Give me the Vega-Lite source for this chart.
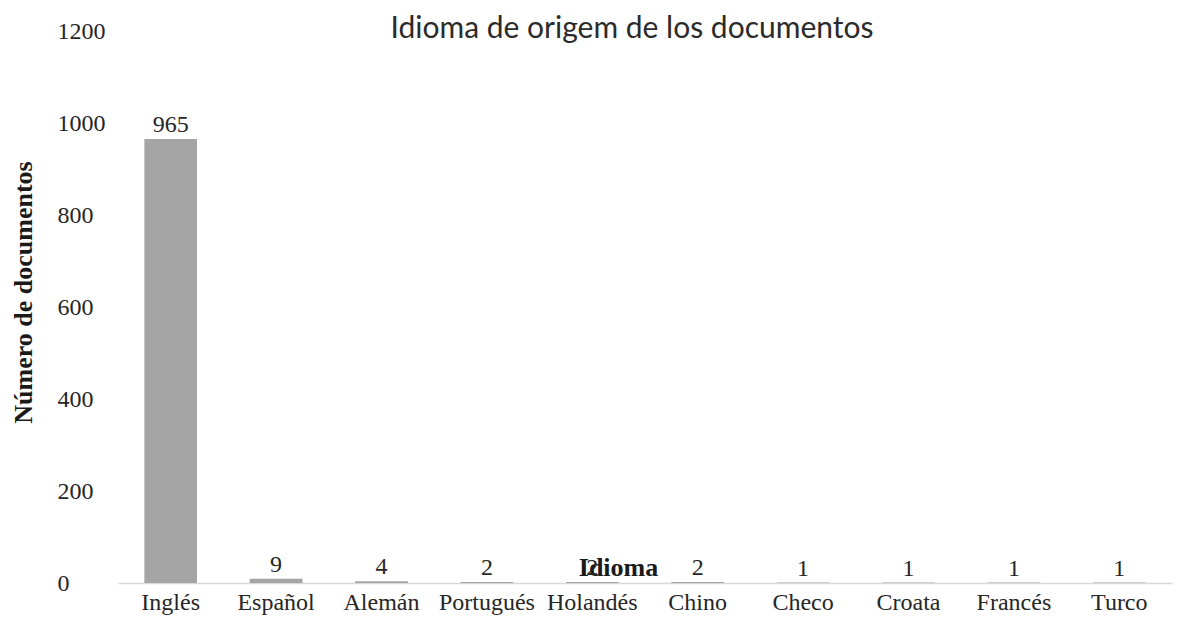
{
  "$schema": "https://vega.github.io/schema/vega-lite/v6.json",
  "autosize": {"type": "none"},
  "padding": {"left": 118, "top": 31, "right": 8, "bottom": 44},
  "width": 1054,
  "height": 552,
  "background": "white",
  "title": {
    "text": "Idioma de origem de los documentos",
    "font": "Lato",
    "fontSize": 30,
    "fontWeight": "normal",
    "color": "#2b2b2b",
    "anchor": "middle",
    "dx": -13,
    "dy": 23,
    "offset": -2
  },
  "data": {
    "values": [
      {"idioma": "Inglés", "n": 965},
      {"idioma": "Español", "n": 9},
      {"idioma": "Alemán", "n": 4},
      {"idioma": "Portugués", "n": 2},
      {"idioma": "Holandés", "n": 2},
      {"idioma": "Chino", "n": 2},
      {"idioma": "Checo", "n": 1},
      {"idioma": "Croata", "n": 1},
      {"idioma": "Francés", "n": 1},
      {"idioma": "Turco", "n": 1}
    ]
  },
  "encoding": {
    "x": {
      "field": "idioma",
      "type": "nominal",
      "sort": null,
      "scale": {"paddingInner": 0.5, "paddingOuter": 0.25},
      "axis": {
        "title": "Idioma",
        "titleFont": "Liberation Serif",
        "titleFontSize": 26,
        "titleFontWeight": "bold",
        "titleColor": "#1a1a1a",
        "titleX": 500,
        "titleY": -7.5,
        "titleBaseline": "alphabetic",
        "labelAngle": 0,
        "labelFont": "Liberation Serif",
        "labelFontSize": 24,
        "labelColor": "#262626",
        "labelBaseline": "alphabetic",
        "labelPadding": 26,
        "ticks": false,
        "domainColor": "#d9d9d9",
        "domainWidth": 1.5
      }
    },
    "y": {
      "field": "n",
      "type": "quantitative",
      "scale": {"domain": [0, 1200]},
      "axis": {
        "title": "Número de documentos",
        "titleFont": "Liberation Serif",
        "titleFontSize": 26,
        "titleFontWeight": "bold",
        "titleColor": "#1a1a1a",
        "titleAngle": -90,
        "titleX": -95,
        "titleY": 261,
        "titleAlign": "center",
        "titleBaseline": "middle",
        "values": [0, 200, 400, 600, 800, 1000, 1200],
        "format": "d",
        "labelFont": "Liberation Serif",
        "labelFontSize": 24,
        "labelColor": "#262626",
        "labelAlign": "left",
        "labelPadding": 61,
        "ticks": false,
        "domain": false,
        "grid": false
      }
    }
  },
  "layer": [
    {"mark": {"type": "bar", "color": "#a5a5a5"}},
    {
      "mark": {
        "type": "text",
        "dy": -7,
        "baseline": "alphabetic",
        "font": "Liberation Serif",
        "fontSize": 24,
        "color": "#262626"
      },
      "encoding": {"text": {"field": "n", "type": "quantitative"}}
    }
  ],
  "config": {"view": {"stroke": null}}
}
